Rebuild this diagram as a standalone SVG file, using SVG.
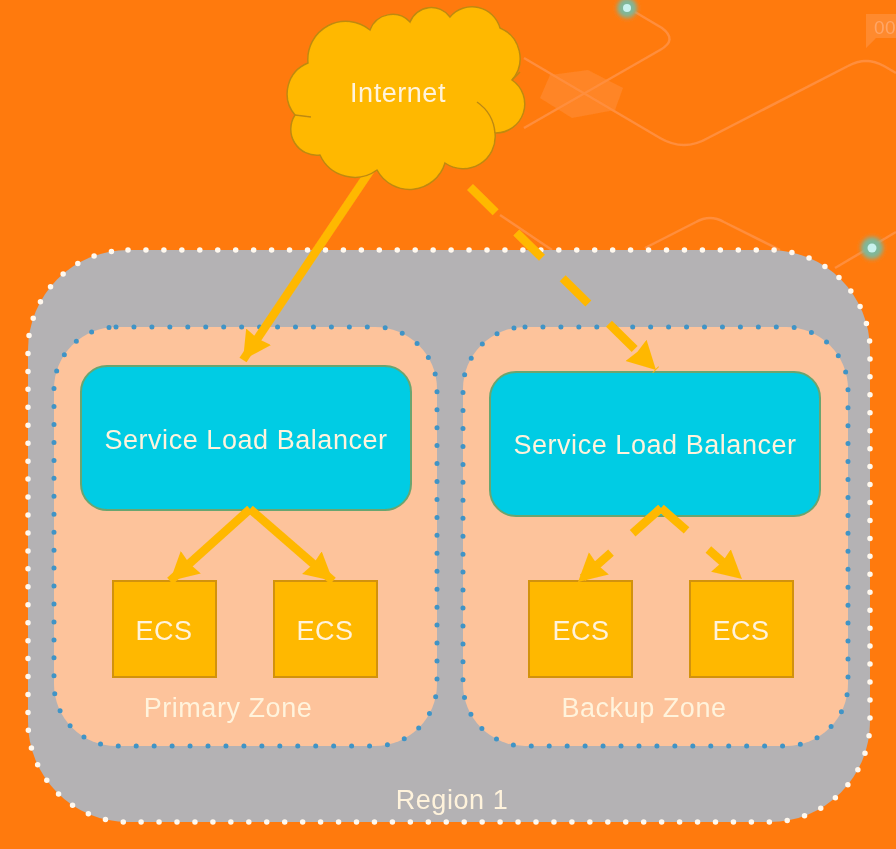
<svg xmlns="http://www.w3.org/2000/svg" width="896" height="849" viewBox="0 0 896 849">
<style>
.bg{fill:none;stroke:#FF8E3C;stroke-width:2.5}
.region{fill:#B4B2B4;stroke:#FFF8EE;stroke-width:5.5;stroke-linecap:round;stroke-dasharray:0 17.95}
.zone{fill:#FDC39B;stroke:#3F94C6;stroke-width:5;stroke-linecap:round;stroke-dasharray:0 17.95}
.slb{fill:#00CCE4;stroke:#6BA56F;stroke-width:2}
.ecs{fill:#FFB805;stroke:#D2920F;stroke-width:2}
.cloud{fill:#FFB805;stroke:#BF8A10;stroke-width:1.5}
.inner{fill:none;stroke:#BF8A10;stroke-width:1.5}
.conn{fill:none;stroke:#FFB805;stroke-width:8.5}
.dash{stroke-dasharray:36 29}
text{font-family:"Liberation Sans",Arial,sans-serif;fill:#FFF3DC;text-anchor:middle;font-size:27px;letter-spacing:.55px}
</style>
<defs>
<filter id="soft" x="-2%" y="-2%" width="104%" height="104%"><feGaussianBlur stdDeviation="0.6"/></filter>
<filter id="glow" x="-50%" y="-50%" width="200%" height="200%"><feGaussianBlur stdDeviation="2"/></filter>
<marker id="head" markerUnits="userSpaceOnUse" markerWidth="36" markerHeight="36" refX="28" refY="16" orient="auto"><path d="M0 1L28 16L0 31L2 16Z" fill="#FFB805"/></marker>
</defs>
<g filter="url(#soft)">
<rect width="896" height="849" fill="#FF7A0E"/>
<g id="background">
<path d="M540 98L550 75L588 70L623 88L615 110L572 118Z" fill="#FF9A50" fill-opacity=".35"/>
<path class="bg" d="M524 58L660 138Q684 152 708 138L848 66Q866 56 884 66L896 73"/>
<path class="bg" d="M635 12L662 28Q678 40 660 50L524 128"/>
<path class="bg" d="M500 215L552 250M645 248L696 222Q710 214 724 222L780 250"/>
<path class="bg" d="M835 268L896 232"/>
<circle cx="627" cy="8" r="10" fill="#7FB79A" filter="url(#glow)"/><circle cx="627" cy="8" r="4" fill="#C9F2EE"/>
<circle cx="872" cy="248" r="11" fill="#7FB79A" filter="url(#glow)"/><circle cx="872" cy="248" r="4.5" fill="#C9F2EE"/>
<path d="M866 14H896V38H876L866 48Z" fill="#FF9A50" fill-opacity=".5"/>
<text x="885" y="34" style="font-size:19px;fill:#FFA566">00</text>
</g>
<g id="region-1">
<rect class="region" x="28" y="250" width="842" height="572" rx="100"/>
<text x="452" y="809">Region 1</text>
</g>
<g id="primary-zone">
<rect class="zone" x="54" y="327" width="383" height="419" rx="62"/>
<text x="228" y="717">Primary Zone</text>
</g>
<g id="backup-zone">
<rect class="zone" x="463" y="327" width="385" height="419" rx="62"/>
<text x="644" y="717">Backup Zone</text>
</g>
<g id="slb-primary">
<rect class="slb" x="81" y="366" width="330" height="144" rx="26"/>
<text x="246" y="449">Service Load Balancer</text>
</g>
<g id="slb-backup">
<rect class="slb" x="490" y="372" width="330" height="144" rx="26"/>
<text x="655" y="454">Service Load Balancer</text>
</g>
<g id="ecs-1"><rect class="ecs" x="113" y="581" width="103" height="96"/><text x="164" y="640">ECS</text></g>
<g id="ecs-2"><rect class="ecs" x="274" y="581" width="103" height="96"/><text x="325" y="640">ECS</text></g>
<g id="ecs-3"><rect class="ecs" x="529" y="581" width="103" height="96"/><text x="581" y="640">ECS</text></g>
<g id="ecs-4"><rect class="ecs" x="690" y="581" width="103" height="96"/><text x="741" y="640">ECS</text></g>
<g id="connectors">
<path class="conn" marker-end="url(#head)" d="M372 168L243 360"/>
<path class="conn dash" marker-end="url(#head)" d="M470 187L656 370"/>
<path class="conn" marker-end="url(#head)" d="M250 509L170 581"/>
<path class="conn" marker-end="url(#head)" d="M250 509L333 581"/>
<path class="conn" style="stroke-dasharray:38 29" marker-end="url(#head)" d="M661 508L578 582"/>
<path class="conn" style="stroke-dasharray:34 29" marker-end="url(#head)" d="M661 508L742 579"/>
</g>
<g id="internet">
<path class="cloud" d="M308 63A38 38 0 0 1 370 30A24 24 0 0 1 410 22A23 23 0 0 1 450 17A29 29 0 0 1 500 28A33 33 0 0 1 512 80A29 29 0 0 1 495 133A32 32 0 0 1 445 163A37 37 0 0 1 377 170A38 38 0 0 1 320 155A26 26 0 0 1 295 115A33 33 0 0 1 308 63Z"/>
<path class="inner" d="M477 102A42 42 0 0 1 495 133M512 80L520 72M295 115L311 117"/>
<text x="398" y="102">Internet</text>
</g>
</g>
</svg>
